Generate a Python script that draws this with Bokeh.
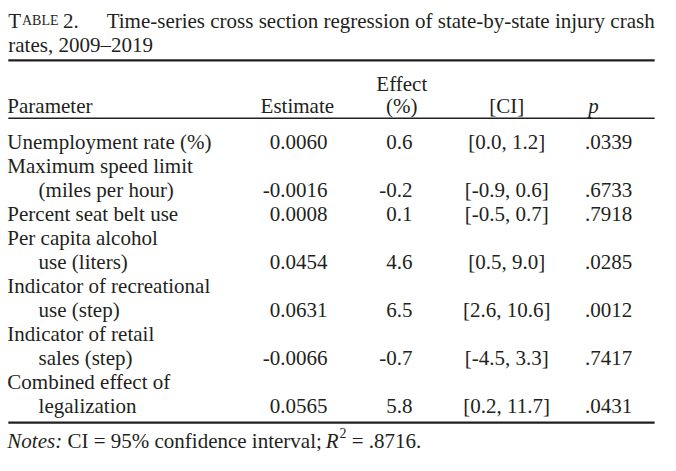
from bokeh.plotting import figure
from bokeh.models import Range1d, ColumnDataSource
from bokeh.core.properties import value
from bokeh.embed import file_html
from bokeh.resources import INLINE

# ---- data ----
table_label_big = "T"
table_label_small = "ABLE"
table_number = "2."
title_line1 = "Time-series cross section regression of state-by-state injury crash"
title_line2 = "rates, 2009\u20132019"
col_headers = ["Parameter", "Estimate", "Effect", "(%)", "[CI]", "p"]
param_main = ["Unemployment rate (%)", "Maximum speed limit", "Percent seat belt use",
              "Per capita alcohol", "Indicator of recreational", "Indicator of retail",
              "Combined effect of"]
param_cont = ["", "(miles per hour)", "", "use (liters)", "use (step)", "sales (step)",
              "legalization"]
estimates = ["0.0060", "-0.0016", "0.0008", "0.0454", "0.0631", "-0.0066", "0.0565"]
effects = ["0.6", "-0.2", "0.1", "4.6", "6.5", "-0.7", "5.8"]
ci = ["[0.0, 1.2]", "[-0.9, 0.6]", "[-0.5, 0.7]", "[0.5, 9.0]", "[2.6, 10.6]",
      "[-4.5, 3.3]", "[0.2, 11.7]"]
pvals = [".0339", ".6733", ".7918", ".0285", ".0012", ".7417", ".0431"]
notes_label = "Notes:"
notes_text = "CI = 95% confidence interval;"
r2_label = "R"
r2_exp = "2"
r2_value = "= .8716."

# ---- layout (coordinates in reference-page units, scaled into the figure) ----
W, H = 660, 455
PAGE_W, PAGE_H = 676, 471
SX = W / PAGE_W
FONT = value("Liberation Serif")
FSN = 21
FS = f"{FSN}px"
COL = "#231f20"
ROW0 = 146.7
PITCH = 24.85

p = figure(width=W, height=H, output_backend="svg", toolbar_location=None,
           x_range=Range1d(0, PAGE_W), y_range=Range1d(PAGE_H, 0),
           min_border=0, outline_line_color=None,
           x_axis_location=None, y_axis_location=None)
p.grid.visible = False
p.title.visible = False
p.background_fill_color = "white"
p.border_fill_color = "white"


def txt(x, y, s, align="left", size=FS, style="normal"):
    p.text(x=[x], y=[y], text=[s], text_font=FONT, text_font_size=size,
           text_align=align, text_baseline="alphabetic", text_color=COL,
           text_font_style=style)


# title
txt(8, 21, table_label_big)
txt(22, 21, table_label_small, size="14px")
txt(64, 21, table_number)
txt(670, 21, title_line1, align="right")
txt(8, 46, title_line2)

# rules
p.segment(x0=[8], y0=[62], x1=[670], y1=[62], line_color=COL, line_width=2.2)
p.segment(x0=[8], y0=[122], x1=[670], y1=[122], line_color=COL, line_width=1.5)
p.segment(x0=[8], y0=[437], x1=[670], y1=[437], line_color=COL, line_width=2.2)

# headers
HY = 109
txt(7, HY, col_headers[0])
txt(304, HY, col_headers[1], align="center")
txt(411, HY - 23, col_headers[2], align="center")
txt(411, HY, col_headers[3], align="center")
txt(518.5, HY, col_headers[4], align="center")
txt(602, HY, col_headers[5], style="italic")

# body
rows_main, ys_main, rows_cont, ys_cont, vy = [], [], [], [], []
r = 0
for m, c in zip(param_main, param_cont):
    rows_main.append(m)
    ys_main.append(ROW0 + r * PITCH)
    r += 1
    if c:
        rows_cont.append(c)
        ys_cont.append(ROW0 + r * PITCH)
        r += 1
    vy.append(ROW0 + (r - 1) * PITCH)

p.text(x=[7] * len(rows_main), y=ys_main, text=rows_main, text_font=FONT,
       text_font_size=FS, text_baseline="alphabetic", text_color=COL)
p.text(x=[39] * len(rows_cont), y=ys_cont, text=rows_cont, text_font=FONT,
       text_font_size=FS, text_baseline="alphabetic", text_color=COL)

src = ColumnDataSource(dict(y=vy, est=estimates, eff=effects, ci=ci, pv=pvals))
for xx, col, al in [(335, "est", "right"), (422, "eff", "right"),
                    (518.5, "ci", "center"), (647, "pv", "right")]:
    p.text(x=xx, y="y", text=col, source=src, text_font=FONT, text_font_size=FS,
           text_align=al, text_baseline="alphabetic", text_color=COL)

# notes line, pieces chained with approximate Times metrics (em units)
em = FSN / SX
x0 = 7
txt(x0, 456, notes_label, style="italic")
x1 = x0 + 2.611 * em + 0.25 * em
txt(x1, 456, notes_text)
x2 = x1 + 12.3 * em
txt(x2, 456, r2_label, style="italic")
x3 = x2 + 0.66 * em
txt(x3, 448, r2_exp, size="14px")
x4 = x3 + 0.33 * em + 0.25 * em
txt(x4, 456, r2_value)

open("out.html", "w").write(file_html(p, INLINE))
